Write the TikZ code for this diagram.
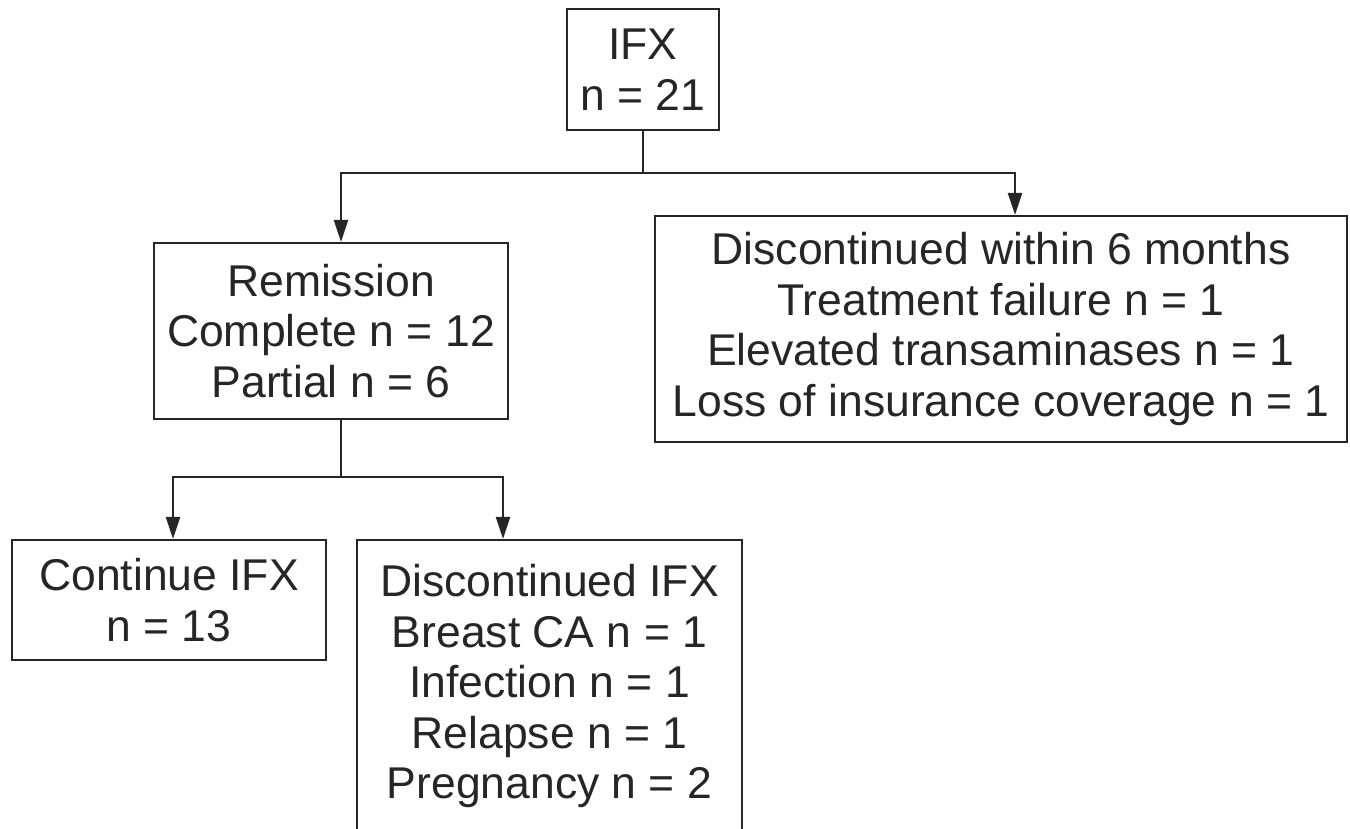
\documentclass[tikz,border=0pt]{standalone}
\usepackage{fontspec}
\setmainfont{Liberation Sans}
\usetikzlibrary{arrows.meta}
\definecolor{ink}{HTML}{262626}
\tikzset{
  box/.style={draw=ink, line width=2.2pt, rectangle, inner sep=0pt, align=center,
    text=ink, font={\fontsize{44.5}{50.5}\selectfont}},
  link/.style={draw=ink, line width=2.2pt},
  arr/.style={link, -{Triangle[length=22pt,width=14pt]}}
}
\begin{document}
\begin{tikzpicture}[x=1pt,y=-1pt]
\useasboundingbox (0,0) rectangle (1350,829);
\clip (0,0) rectangle (1350,829);
\node[box, minimum width=152pt, minimum height=121pt] (ifx) at (643,69.5) {IFX\\n = 21};
\node[box, minimum width=354pt, minimum height=176pt] (rem) at (331,331) {Remission\\Complete n = 12\\Partial n = 6};
\node[box, minimum width=692pt, minimum height=226pt] (dis6) at (1001,329) {Discontinued within 6 months\\Treatment failure n = 1\\Elevated transaminases n = 1\\Loss of insurance coverage n = 1};
\node[box, minimum width=314pt, minimum height=120pt] (cont) at (169,600) {Continue IFX\\n = 13};
\node[box, minimum width=385pt, minimum height=292pt] (disc) at (549.5,686) {Discontinued IFX\\Breast CA n = 1\\Infection n = 1\\Relapse n = 1\\Pregnancy n = 2};
\coordinate (j1) at (643,173);
\coordinate (j2) at (341,477);
\draw[link] (ifx.south) -- (j1);
\draw[arr] (j1) -| ([xshift=10pt]rem.north);
\draw[arr] (j1) -| ([xshift=14pt]dis6.north);
\draw[link] ([xshift=10pt]rem.south) -- (j2);
\draw[arr] (j2) -| ([xshift=4pt]cont.north);
\draw[arr] (j2) -| ([xshift=-46.5pt]disc.north);
\end{tikzpicture}
\end{document}
